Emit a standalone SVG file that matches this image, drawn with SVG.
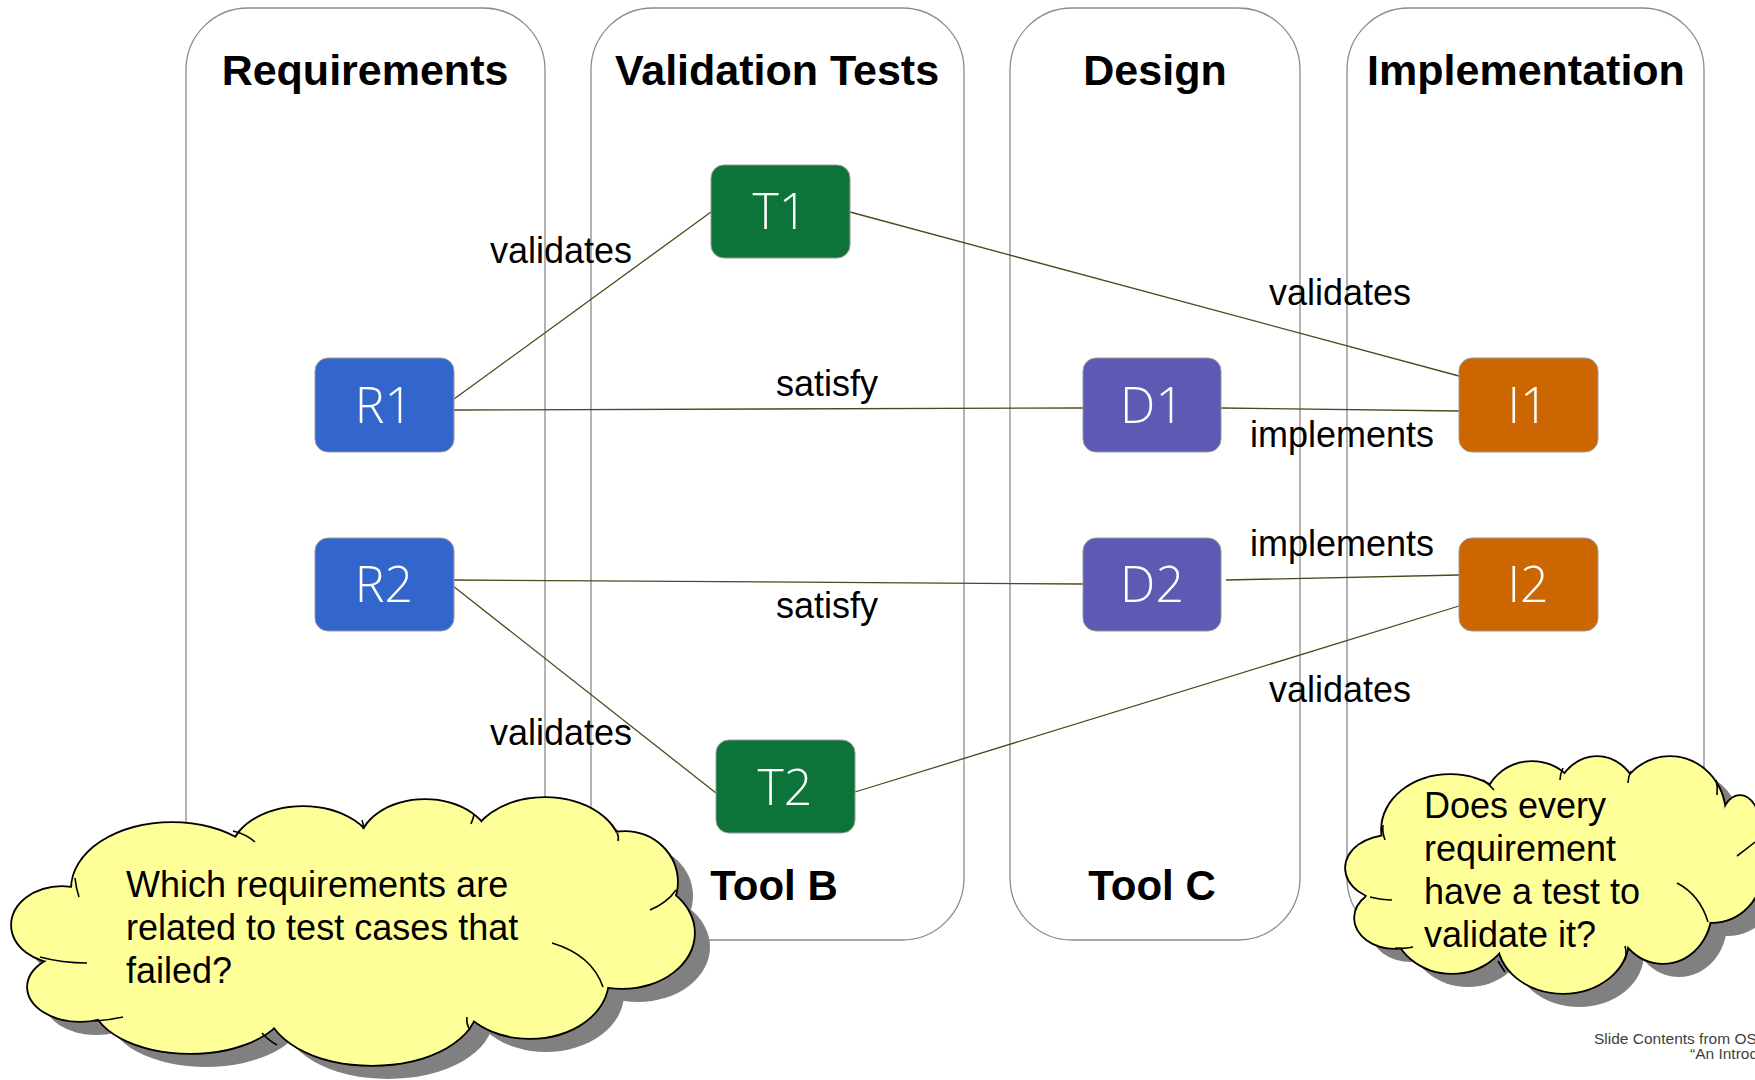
<svg xmlns="http://www.w3.org/2000/svg" width="1755" height="1080" viewBox="0 0 1755 1080">
<style>
.lane{fill:#ffffff;stroke:#8c8c8c;stroke-width:1.3}
.head{font-family:"Liberation Sans",Arial,sans-serif;font-weight:bold;font-size:43px;fill:#000;text-anchor:middle}
.tool{font-family:"Liberation Sans",Arial,sans-serif;font-weight:bold;font-size:42px;fill:#000;text-anchor:middle}
.lbl{font-family:"Liberation Sans",Arial,sans-serif;font-size:36px;fill:#000}
.node{stroke:#9a9a9a;stroke-width:1}
.ntx{font-family:"Open Sans","Noto Sans",sans-serif;font-weight:300;font-size:50px;fill:#fff;text-anchor:middle}
.r{fill:#3366cc}.t{fill:#0c7339}.d{fill:#5e59b3}.i{fill:#cc6600}
.conn line{stroke:#4a4a1c;stroke-width:1.3}
.sh ellipse,.sh polygon{fill:#808080}
.lobe ellipse{fill:#ffff99;stroke:#000;stroke-width:3.6}
.fill ellipse,.fill polygon{fill:#ffff99}
.tick path{fill:none;stroke:#000;stroke-width:1.6}
.ctx{font-family:"Liberation Sans",Arial,sans-serif;font-size:36px;fill:#000}
.foot{font-family:"Liberation Sans",Arial,sans-serif;font-size:15.5px;fill:#404040}
</style>

<g id="lanes">
<g id="lane-requirements"><rect class="lane" x="186" y="8" width="359" height="932" rx="62" ry="62"/><text class="head" x="365" y="85">Requirements</text></g>
<g id="lane-validation"><rect class="lane" x="591" y="8" width="373" height="932" rx="62" ry="62"/><text class="head" x="777" y="85">Validation Tests</text><text class="tool" x="774" y="900">Tool B</text></g>
<g id="lane-design"><rect class="lane" x="1010" y="8" width="290" height="932" rx="62" ry="62"/><text class="head" x="1155" y="85">Design</text><text class="tool" x="1152" y="900">Tool C</text></g>
<g id="lane-implementation"><rect class="lane" x="1347" y="8" width="357" height="932" rx="62" ry="62"/><text class="head" x="1526" y="85">Implementation</text></g>
</g>

<g id="connectors" class="conn">
<line x1="454" y1="399" x2="711" y2="212"/>
<line x1="454" y1="410" x2="1083" y2="408"/>
<line x1="850" y1="212" x2="1459" y2="376"/>
<line x1="1221" y1="408" x2="1459" y2="411"/>
<line x1="453" y1="580" x2="1083" y2="584"/>
<line x1="453" y1="586" x2="716" y2="793"/>
<line x1="1226" y1="580" x2="1459" y2="575"/>
<line x1="855" y1="792" x2="1459" y2="606"/>
</g>

<g id="connector-labels">
<text class="lbl" x="490" y="263">validates</text>
<text class="lbl" x="776" y="396">satisfy</text>
<text class="lbl" x="1269" y="305">validates</text>
<text class="lbl" x="1250" y="447">implements</text>
<text class="lbl" x="1250" y="556">implements</text>
<text class="lbl" x="776" y="618">satisfy</text>
<text class="lbl" x="490" y="745">validates</text>
<text class="lbl" x="1269" y="702">validates</text>
</g>

<g id="node-T1"><rect class="node t" x="711" y="165" width="139" height="93" rx="13"/><text class="ntx" x="780" y="229">T1</text></g>
<g id="node-R1"><rect class="node r" x="315" y="358" width="139" height="94" rx="13"/><text class="ntx" x="384" y="423">R1</text></g>
<g id="node-D1"><rect class="node d" x="1083" y="358" width="138" height="94" rx="13"/><text class="ntx" x="1152" y="423">D1</text></g>
<g id="node-I1"><rect class="node i" x="1459" y="358" width="139" height="94" rx="13"/><text class="ntx" x="1528" y="423">I1</text></g>
<g id="node-R2"><rect class="node r" x="315" y="538" width="139" height="93" rx="13"/><text class="ntx" x="384" y="602">R2</text></g>
<g id="node-D2"><rect class="node d" x="1083" y="538" width="138" height="93" rx="13"/><text class="ntx" x="1152" y="602">D2</text></g>
<g id="node-I2"><rect class="node i" x="1459" y="538" width="139" height="93" rx="13"/><text class="ntx" x="1528" y="602">I2</text></g>
<g id="node-T2"><rect class="node t" x="716" y="740" width="139" height="93" rx="13"/><text class="ntx" x="785" y="805">T2</text></g>

<g id="cloud-left">
<g class="sh" transform="translate(16,14)">
<ellipse cx="172" cy="888" rx="100" ry="65"/><ellipse cx="303" cy="855" rx="72" ry="48"/><ellipse cx="425" cy="845" rx="65" ry="45"/><ellipse cx="545" cy="850" rx="75" ry="52"/><ellipse cx="625" cy="882" rx="52" ry="50"/><ellipse cx="622" cy="933" rx="72" ry="55"/><ellipse cx="530" cy="980" rx="78" ry="58"/><ellipse cx="372" cy="1005" rx="105" ry="60"/><ellipse cx="190" cy="1000" rx="98" ry="53"/><ellipse cx="80" cy="987" rx="52" ry="34"/><ellipse cx="62" cy="925" rx="50" ry="38"/>
<polygon points="86,902 235,841 367,831 476,826 612,845 664,894 595,977 468,1020 285,1028 106,1011 46,955"/>
</g>
<g class="lobe">
<ellipse cx="172" cy="888" rx="100" ry="65"/><ellipse cx="303" cy="855" rx="72" ry="48"/><ellipse cx="425" cy="845" rx="65" ry="45"/><ellipse cx="545" cy="850" rx="75" ry="52"/><ellipse cx="625" cy="882" rx="52" ry="50"/><ellipse cx="622" cy="933" rx="72" ry="55"/><ellipse cx="530" cy="980" rx="78" ry="58"/><ellipse cx="372" cy="1005" rx="105" ry="60"/><ellipse cx="190" cy="1000" rx="98" ry="53"/><ellipse cx="80" cy="987" rx="52" ry="34"/><ellipse cx="62" cy="925" rx="50" ry="38"/>
</g>
<g class="fill">
<ellipse cx="172" cy="888" rx="100" ry="65"/><ellipse cx="303" cy="855" rx="72" ry="48"/><ellipse cx="425" cy="845" rx="65" ry="45"/><ellipse cx="545" cy="850" rx="75" ry="52"/><ellipse cx="625" cy="882" rx="52" ry="50"/><ellipse cx="622" cy="933" rx="72" ry="55"/><ellipse cx="530" cy="980" rx="78" ry="58"/><ellipse cx="372" cy="1005" rx="105" ry="60"/><ellipse cx="190" cy="1000" rx="98" ry="53"/><ellipse cx="80" cy="987" rx="52" ry="34"/><ellipse cx="62" cy="925" rx="50" ry="38"/>
<polygon points="86,902 235,841 367,831 476,826 612,845 664,894 595,977 468,1020 285,1028 106,1011 46,955"/>
</g>
<g class="tick">
<path d="M233,831 Q246,834 255,842"/>
<path d="M362,820 Q364,824 363,829"/>
<path d="M474,815 Q473,819 471,824"/>
<path d="M617,833 Q619,836 618,841"/>
<path d="M676,890 Q667,903 650,910"/>
<path d="M552,943 Q592,955 603,987"/>
<path d="M470,1030 Q466,1024 467,1017"/>
<path d="M277,1045 Q268,1040 262,1033"/>
<path d="M95,1021 Q110,1020 123,1017"/>
<path d="M40,957 Q62,963 87,963"/>
<path d="M75,878 Q76,888 79,897"/>
</g>
<text class="ctx" x="126" y="897">Which requirements are</text>
<text class="ctx" x="126" y="940">related to test cases that</text>
<text class="ctx" x="126" y="983">failed?</text>
</g>

<g id="cloud-right">
<g class="sh" transform="translate(16,14)">
<ellipse cx="1450" cy="830" rx="68" ry="55"/><ellipse cx="1532" cy="808" rx="48" ry="46"/><ellipse cx="1597" cy="805" rx="42" ry="48"/><ellipse cx="1670" cy="815" rx="55" ry="58"/><ellipse cx="1740" cy="826" rx="19" ry="30"/><ellipse cx="1712" cy="870" rx="50" ry="52"/><ellipse cx="1663" cy="910" rx="48" ry="53"/><ellipse cx="1563" cy="940" rx="65" ry="53"/><ellipse cx="1452" cy="923" rx="58" ry="50"/><ellipse cx="1395" cy="918" rx="40" ry="30"/><ellipse cx="1390" cy="868" rx="44" ry="32"/>
<polygon points="1390,840 1495,786 1562,777 1628,781 1720,810 1745,850 1703,912 1622,943 1505,950 1405,944 1365,900"/>
</g>
<g class="lobe">
<ellipse cx="1450" cy="830" rx="68" ry="55"/><ellipse cx="1532" cy="808" rx="48" ry="46"/><ellipse cx="1597" cy="805" rx="42" ry="48"/><ellipse cx="1670" cy="815" rx="55" ry="58"/><ellipse cx="1740" cy="826" rx="19" ry="30"/><ellipse cx="1712" cy="870" rx="50" ry="52"/><ellipse cx="1663" cy="910" rx="48" ry="53"/><ellipse cx="1563" cy="940" rx="65" ry="53"/><ellipse cx="1452" cy="923" rx="58" ry="50"/><ellipse cx="1395" cy="918" rx="40" ry="30"/><ellipse cx="1390" cy="868" rx="44" ry="32"/>
</g>
<g class="fill">
<ellipse cx="1450" cy="830" rx="68" ry="55"/><ellipse cx="1532" cy="808" rx="48" ry="46"/><ellipse cx="1597" cy="805" rx="42" ry="48"/><ellipse cx="1670" cy="815" rx="55" ry="58"/><ellipse cx="1740" cy="826" rx="19" ry="30"/><ellipse cx="1712" cy="870" rx="50" ry="52"/><ellipse cx="1663" cy="910" rx="48" ry="53"/><ellipse cx="1563" cy="940" rx="65" ry="53"/><ellipse cx="1452" cy="923" rx="58" ry="50"/><ellipse cx="1395" cy="918" rx="40" ry="30"/><ellipse cx="1390" cy="868" rx="44" ry="32"/>
<polygon points="1390,840 1495,786 1562,777 1628,781 1720,810 1745,850 1703,912 1622,943 1505,950 1405,944 1365,900"/>
</g>
<g class="tick">
<path d="M1383,825 Q1382,832 1385,840"/>
<path d="M1370,897 Q1382,900 1392,900"/>
<path d="M1395,948 Q1405,949 1413,947"/>
<path d="M1505,972 Q1501,966 1498,961"/>
<path d="M1625,960 Q1627,953 1625,946"/>
<path d="M1708,922 Q1700,895 1677,883"/>
<path d="M1755,842 Q1745,850 1737,856"/>
<path d="M1631,771 Q1628,777 1628,783"/>
<path d="M1563,768 Q1560,774 1560,780"/>
<path d="M1483,780 Q1489,784 1494,790"/>
<path d="M1716,780 Q1718,787 1717,795"/>
</g>
<text class="ctx" x="1424" y="818">Does every</text>
<text class="ctx" x="1424" y="861">requirement</text>
<text class="ctx" x="1424" y="904">have a test to</text>
<text class="ctx" x="1424" y="947">validate it?</text>
</g>

<g id="footer">
<text class="foot" x="1594" y="1044">Slide Contents from OS</text>
<text class="foot" x="1690" y="1059">“An Introd</text>
</g>
</svg>
